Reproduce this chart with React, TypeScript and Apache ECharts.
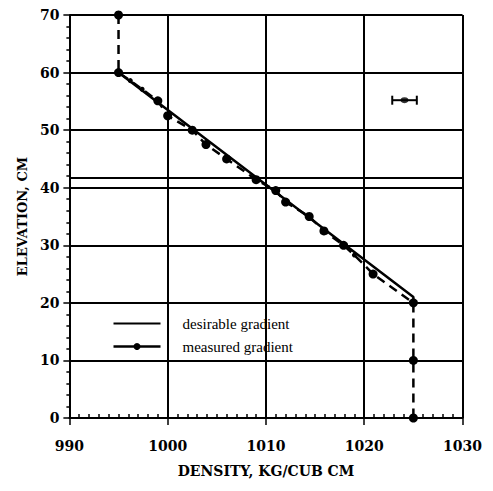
import React, { useEffect, useRef } from "react";
import * as echarts from "echarts";

// Desirable (target) gradient: density (kg/cub cm) vs elevation (cm)
const desirableDensity = [995, 1025, 1025];
const desirableElevation = [60, 21, 20];

// Measured gradient
const measuredDensity = [995, 995, 996.2, 997.4, 999, 1000, 1002.5, 1003.9, 1006, 1009, 1011, 1012, 1014.4, 1015.9, 1017.9, 1019, 1020.9, 1025, 1025, 1025];
const measuredElevation = [70, 60, 58.6, 57.1, 55.1, 52.5, 50, 47.5, 45, 41.4, 39.5, 37.5, 35, 32.5, 30, 28.3, 25, 20, 10, 0];
const minorPointIndices = [2, 3, 15];

// Error bar sample
const errorCenterDensity = 1024.1;
const errorCenterElevation = 55.2;
const errorHalfWidth = 1.25;

// Extra reference line
const extraLineElevation = 41.8;

// Axes
const xMin = 990, xMax = 1030, xStep = 10;
const yMin = 0, yMax = 70, yStep = 10;
const xTitle = "DENSITY, KG/CUB CM";
const yTitle = "ELEVATION, CM";
const legendNames = ["desirable gradient", "measured gradient"];

export default function App() {
  const ref = useRef<HTMLDivElement>(null);
  useEffect(() => {
    if (!ref.current) return;
    const chart = echarts.init(ref.current, undefined, { renderer: "svg" });
    const tickFont = { fontFamily: "DejaVu Serif", fontWeight: "bold" as const, fontSize: 14, color: "#000" };
    const desirable = desirableDensity.map((d, i) => [d, desirableElevation[i]]);
    const measured = measuredDensity.map((d, i) =>
      minorPointIndices.includes(i)
        ? { value: [d, measuredElevation[i]], symbolSize: 5 }
        : [d, measuredElevation[i]]
    );
    const legendX = 103, legendY = 308, legendLineW = 47, legendRow = 23, legendTextX = 172;
    const legendFont = { fontFamily: "Liberation Serif", fontSize: 15, fill: "#000" };
    chart.setOption({
      animation: false,
      backgroundColor: "#fff",
      grid: { left: 60, right: 15, top: 7, bottom: 61, containLabel: false },
      xAxis: [
        {
          type: "value",
          min: xMin,
          max: xMax,
          interval: xStep,
          position: "bottom",
          name: xTitle,
          nameLocation: "middle",
          nameGap: 46,
          nameTextStyle: { fontFamily: "DejaVu Serif", fontWeight: "bold", fontSize: 14, color: "#000" },
          axisLine: { show: true, onZero: false, lineStyle: { color: "#000", width: 2 } },
          axisTick: { show: true, inside: true, length: 4, lineStyle: { color: "#000", width: 1.5 } },
          minorTick: { show: true, splitNumber: 10, length: 4, lineStyle: { color: "#000", width: 1.5 } },
          axisLabel: { ...tickFont, margin: 21, formatter: (v: number) => String(v) },
          splitLine: { show: true, lineStyle: { color: "#000", width: 2 } },
        },
        {
          type: "value",
          min: xMin,
          max: xMax,
          interval: xStep,
          position: "bottom",
          axisLine: { show: false, onZero: false },
          axisTick: { show: true, length: 7, lineStyle: { color: "#000", width: 1.5 } },
          axisLabel: { show: false },
          splitLine: { show: false },
        },
      ],
      yAxis: {
        type: "value",
        min: yMin,
        max: yMax,
        interval: yStep,
        name: yTitle,
        nameLocation: "middle",
        nameGap: 38,
        nameTextStyle: { fontFamily: "DejaVu Serif", fontWeight: "bold", fontSize: 13, color: "#000" },
        axisLine: { show: true, onZero: false, lineStyle: { color: "#000", width: 2 } },
        axisTick: { show: true, length: 6, lineStyle: { color: "#000", width: 1.5 } },
        minorTick: { show: true, splitNumber: 5, length: 3, lineStyle: { color: "#000", width: 1.5 } },
        axisLabel: { ...tickFont, margin: 10 },
        splitLine: { show: true, lineStyle: { color: "#000", width: 2 } },
      },
      graphic: [
        {
          type: "group",
          left: legendX,
          top: legendY,
          children: [
            { type: "line", shape: { x1: 0, y1: 7, x2: legendLineW, y2: 7 }, style: { stroke: "#000", lineWidth: 2 } },
            { type: "text", x: legendTextX - legendX, y: 7, style: { ...legendFont, text: legendNames[0], verticalAlign: "middle" } },
            { type: "line", shape: { x1: 0, y1: 7 + legendRow, x2: legendLineW, y2: 7 + legendRow }, style: { stroke: "#000", lineWidth: 2.5 } },
            { type: "circle", shape: { cx: legendLineW / 2, cy: 7 + legendRow, r: 3.5 }, style: { fill: "#000" } },
            { type: "text", x: legendTextX - legendX, y: 7 + legendRow, style: { ...legendFont, text: legendNames[1], verticalAlign: "middle" } },
          ],
        },
      ],
      series: [
        {
          name: legendNames[0],
          type: "line",
          data: desirable,
          symbol: "none",
          lineStyle: { color: "#000", width: 2.5, type: "solid" },
          itemStyle: { color: "#000" },
          markLine: {
            silent: true,
            symbol: "none",
            label: { show: false },
            lineStyle: { color: "#000", width: 2, type: "solid" },
            data: [{ yAxis: extraLineElevation }],
          },
          z: 3,
        },
        {
          name: legendNames[1],
          type: "line",
          data: measured,
          symbol: "circle",
          symbolSize: 9,
          lineStyle: { color: "#000", width: 2.5, type: [9, 6] },
          itemStyle: { color: "#000" },
          z: 4,
        },
        {
          name: "error",
          type: "line",
          data: [
            [errorCenterDensity - errorHalfWidth, errorCenterElevation],
            [errorCenterDensity + errorHalfWidth, errorCenterElevation],
          ],
          symbol: "rect",
          symbolSize: [2, 9],
          lineStyle: { color: "#000", width: 2 },
          itemStyle: { color: "#000" },
          z: 4,
        },
        {
          name: "errorCenter",
          type: "scatter",
          data: [[errorCenterDensity, errorCenterElevation]],
          symbol: "circle",
          symbolSize: [8, 6],
          itemStyle: { color: "#000" },
          z: 5,
        },
      ],
    });
    return () => chart.dispose();
  }, []);
  return <div ref={ref} style={{ width: 477, height: 475 }} />;
}
